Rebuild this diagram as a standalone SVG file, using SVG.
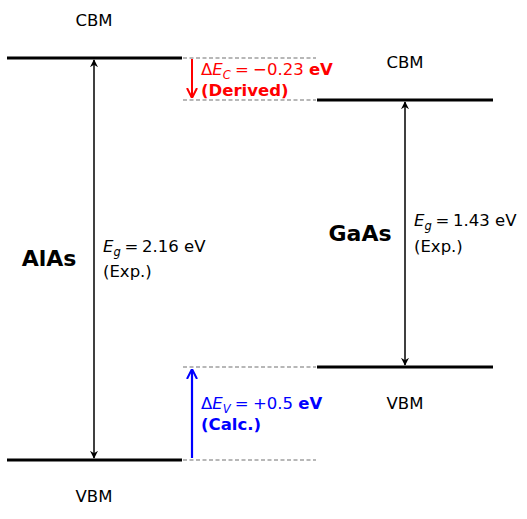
<svg xmlns="http://www.w3.org/2000/svg" width="527" height="519" viewBox="0 0 527 519">
<style>
text{font-family:"DejaVu Sans",sans-serif;font-size:16.5px}
.lvl{stroke:#000;stroke-width:3}
.dash{stroke:#707070;stroke-width:1.2;stroke-dasharray:4,2.5}
.c{text-anchor:middle}
.big{font-size:22px;font-weight:bold}
.i{font-style:italic}
.b{font-weight:bold}
</style>
<defs>
<marker id="ak" viewBox="0 0 10 10" refX="9" refY="5" markerWidth="8" markerHeight="8" markerUnits="userSpaceOnUse" orient="auto-start-reverse"><path d="M0,0 L10,5 L0,10 L3,5 Z" fill="#000"/></marker>
<marker id="ar" viewBox="0 0 10 10" refX="9" refY="5" markerWidth="10" markerHeight="12" markerUnits="userSpaceOnUse" orient="auto"><path d="M0,0 L10,5 L0,10" fill="none" stroke="red" stroke-width="2"/></marker>
<marker id="ab" viewBox="0 0 10 10" refX="9" refY="5" markerWidth="10" markerHeight="12" markerUnits="userSpaceOnUse" orient="auto"><path d="M0,0 L10,5 L0,10" fill="none" stroke="blue" stroke-width="2"/></marker>
</defs>
<g id="alas">
<line class="lvl" x1="7" y1="58" x2="182" y2="58"/>
<line class="lvl" x1="7" y1="460" x2="182" y2="460"/>
<text class="c" x="94" y="26">CBM</text>
<text class="c" x="94" y="502">VBM</text>
<text class="c big" x="49" y="266">AlAs</text>
<text x="103" y="252"><tspan class="i">E</tspan><tspan class="i" font-size="11.5" dy="4">g</tspan><tspan dy="-4" dx="-1.5"> = </tspan><tspan dx="-1.5">2.16 eV</tspan></text>
<text x="103" y="277">(Exp.)</text>
</g>
<g id="gaas">
<line class="lvl" x1="317" y1="100" x2="493" y2="100"/>
<line class="lvl" x1="317" y1="367" x2="493" y2="367"/>
<text class="c" x="405" y="68">CBM</text>
<text class="c" x="405" y="409">VBM</text>
<text class="c big" x="360" y="241">GaAs</text>
<text x="414" y="226"><tspan class="i">E</tspan><tspan class="i" font-size="11.5" dy="4">g</tspan><tspan dy="-4" dx="-1.5"> = </tspan><tspan dx="-1.5">1.43 eV</tspan></text>
<text x="414" y="252">(Exp.)</text>
</g>
<g id="offsets">
<text x="201" y="75" fill="red">Δ<tspan class="i">E</tspan><tspan class="i" font-size="11.5" dy="4">C</tspan><tspan dy="-4" dx="-1"> = </tspan><tspan dx="-1">−0.23 </tspan><tspan class="b">eV</tspan></text>
<text class="b" x="201" y="96" fill="red">(Derived)</text>
<text x="201" y="409" fill="blue">Δ<tspan class="i">E</tspan><tspan class="i" font-size="11.5" dy="4">V</tspan><tspan dy="-4" dx="-1"> = </tspan><tspan dx="-1">+0.5 </tspan><tspan class="b">eV</tspan></text>
<text class="b" x="201" y="430" fill="blue">(Calc.)</text>
</g>
<g id="connectors">
<line class="dash" x1="183" y1="58" x2="316" y2="58"/>
<line class="dash" x1="183" y1="100" x2="316" y2="100"/>
<line class="dash" x1="183" y1="367" x2="316" y2="367"/>
<line class="dash" x1="183" y1="460" x2="316" y2="460"/>
<line x1="94" y1="60" x2="94" y2="458" stroke="#000" stroke-width="1.5" marker-start="url(#ak)" marker-end="url(#ak)"/>
<line x1="405" y1="102" x2="405" y2="365" stroke="#000" stroke-width="1.5" marker-start="url(#ak)" marker-end="url(#ak)"/>
<line x1="192" y1="59" x2="192" y2="97" stroke="red" stroke-width="2" marker-end="url(#ar)"/>
<line x1="192" y1="458" x2="192" y2="370" stroke="blue" stroke-width="2.2" marker-end="url(#ab)"/>
</g>
</svg>
